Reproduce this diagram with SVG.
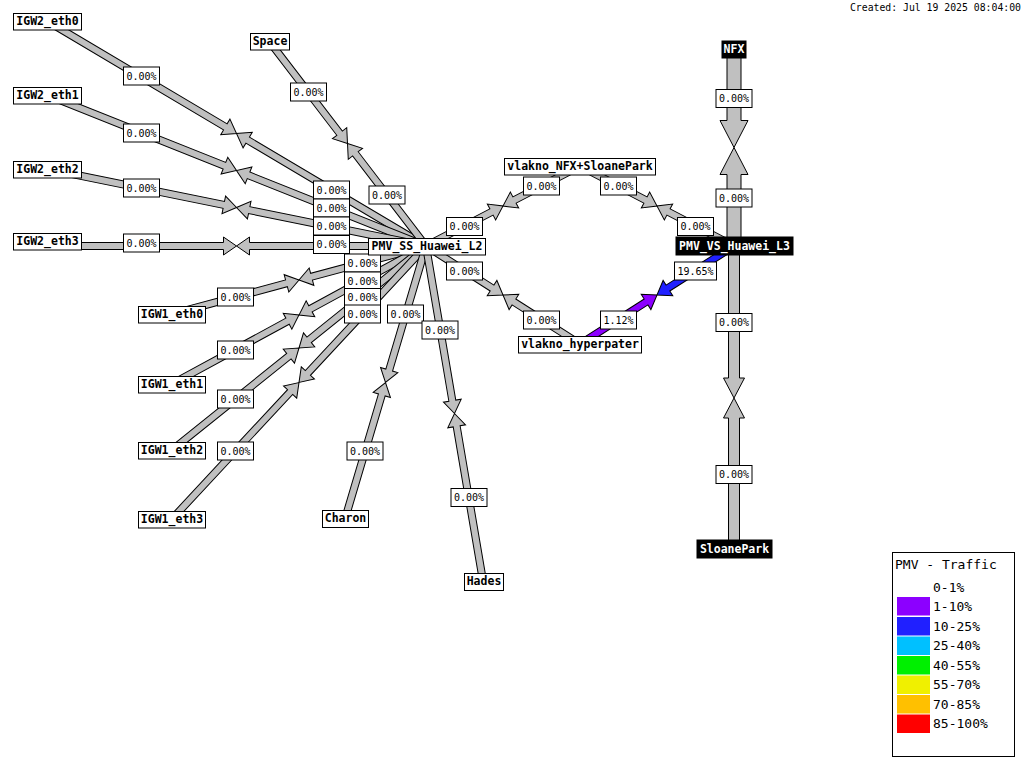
<svg xmlns="http://www.w3.org/2000/svg" width="1024" height="768" viewBox="0 0 1024 768">
<style>
.a{fill:#c0c0c0;stroke:#000;stroke-width:1}
.p{fill:#8c00ff;stroke:#000;stroke-width:1}
.b{fill:#2020ff;stroke:#000;stroke-width:1}
.bw rect{fill:#fff;stroke:#000;stroke-width:1}
.bw text{font-family:"DejaVu Sans Mono","Liberation Mono",monospace;font-size:10px;text-anchor:middle;fill:#000}
.n rect{fill:#fff;stroke:#000;stroke-width:1}
.n text{font-family:"DejaVu Sans Mono","Liberation Mono",monospace;font-size:11.5px;font-weight:bold;text-anchor:middle;fill:#000}
.k rect{fill:#000;stroke:#000}
.k text{fill:#fff}
.lg{font-family:"DejaVu Sans Mono","Liberation Mono",monospace;font-size:13px;fill:#000}
</style>
<rect width="1024" height="768" fill="#fff"/>
<g id="connectors">
<path class="a" transform="translate(47,21) rotate(30.70)" d="M0,-3.5H207.4V-9L220.4,0L207.4,9V3.5H0Z"/>
<path class="a" transform="translate(426,246) rotate(210.70)" d="M0,-3.5H207.4V-9L220.4,0L207.4,9V3.5H0Z"/>
<path class="a" transform="translate(47,95) rotate(21.72)" d="M0,-3.5H191V-9L204,0L191,9V3.5H0Z"/>
<path class="a" transform="translate(426,246) rotate(201.72)" d="M0,-3.5H191V-9L204,0L191,9V3.5H0Z"/>
<path class="a" transform="translate(47,169) rotate(11.48)" d="M0,-3.5H180.4V-9L193.4,0L180.4,9V3.5H0Z"/>
<path class="a" transform="translate(426,246) rotate(191.48)" d="M0,-3.5H180.4V-9L193.4,0L180.4,9V3.5H0Z"/>
<path class="a" transform="translate(47,246) rotate(0)" d="M0,-3.5H176.5V-9L189.5,0L176.5,9V3.5H0Z"/>
<path class="a" transform="translate(426,246) rotate(180)" d="M0,-3.5H176.5V-9L189.5,0L176.5,9V3.5H0Z"/>
<path class="a" transform="translate(269,41) rotate(52.55)" d="M0,-3.5H116.1V-9L129.1,0L116.1,9V3.5H0Z"/>
<path class="a" transform="translate(426,246) rotate(232.55)" d="M0,-3.5H116.1V-9L129.1,0L116.1,9V3.5H0Z"/>
<path class="a" transform="translate(172,314) rotate(-14.99)" d="M0,-3.5H118.5V-9L131.5,0L118.5,9V3.5H0Z"/>
<path class="a" transform="translate(426,246) rotate(165.01)" d="M0,-3.5H118.5V-9L131.5,0L118.5,9V3.5H0Z"/>
<path class="a" transform="translate(172,384) rotate(-28.52)" d="M0,-3.5H131.5V-9L144.5,0L131.5,9V3.5H0Z"/>
<path class="a" transform="translate(426,246) rotate(151.48)" d="M0,-3.5H131.5V-9L144.5,0L131.5,9V3.5H0Z"/>
<path class="a" transform="translate(172,450) rotate(-38.77)" d="M0,-3.5H149.9V-9L162.9,0L149.9,9V3.5H0Z"/>
<path class="a" transform="translate(426,246) rotate(141.23)" d="M0,-3.5H149.9V-9L162.9,0L149.9,9V3.5H0Z"/>
<path class="a" transform="translate(172,519) rotate(-47.06)" d="M0,-3.5H173.4V-9L186.4,0L173.4,9V3.5H0Z"/>
<path class="a" transform="translate(426,246) rotate(132.94)" d="M0,-3.5H173.4V-9L186.4,0L173.4,9V3.5H0Z"/>
<path class="a" transform="translate(345,519) rotate(-73.47)" d="M0,-3.5H129.4V-9L142.4,0L129.4,9V3.5H0Z"/>
<path class="a" transform="translate(426,246) rotate(106.53)" d="M0,-3.5H129.4V-9L142.4,0L129.4,9V3.5H0Z"/>
<path class="a" transform="translate(426,246) rotate(80.34)" d="M0,-3.5H156.9V-9L169.9,0L156.9,9V3.5H0Z"/>
<path class="a" transform="translate(483,581) rotate(260.34)" d="M0,-3.5H156.9V-9L169.9,0L156.9,9V3.5H0Z"/>
<path class="a" transform="translate(426,246) rotate(-27.45)" d="M0,-3.5H73.8V-9L86.8,0L73.8,9V3.5H0Z"/>
<path class="a" transform="translate(580,166) rotate(152.55)" d="M0,-3.5H73.8V-9L86.8,0L73.8,9V3.5H0Z"/>
<path class="a" transform="translate(580,166) rotate(27.45)" d="M0,-3.5H73.8V-9L86.8,0L73.8,9V3.5H0Z"/>
<path class="a" transform="translate(734,246) rotate(207.45)" d="M0,-3.5H73.8V-9L86.8,0L73.8,9V3.5H0Z"/>
<path class="a" transform="translate(426,246) rotate(32.47)" d="M0,-3.5H78.3V-9L91.3,0L78.3,9V3.5H0Z"/>
<path class="a" transform="translate(580,344) rotate(212.47)" d="M0,-3.5H78.3V-9L91.3,0L78.3,9V3.5H0Z"/>
<path class="p" transform="translate(580,344) rotate(-32.47)" d="M0,-3.5H78.3V-9L91.3,0L78.3,9V3.5H0Z"/>
<path class="b" transform="translate(734,246) rotate(147.53)" d="M0,-3.5H78.3V-9L91.3,0L78.3,9V3.5H0Z"/>
<path class="a" transform="translate(734,49) rotate(90)" d="M0,-7H71.5V-14L98.5,0L71.5,14V7H0Z"/>
<path class="a" transform="translate(734,246) rotate(270)" d="M0,-7H71.5V-14L98.5,0L71.5,14V7H0Z"/>
<path class="a" transform="translate(734,246) rotate(90)" d="M0,-5.5H132V-10.5L152,0L132,10.5V5.5H0Z"/>
<path class="a" transform="translate(734,550) rotate(270)" d="M0,-5.5H132V-10.5L152,0L132,10.5V5.5H0Z"/>
</g>
<g id="bwlabels" class="bw">
<rect x="123.5" y="67" width="36" height="18"/><text x="141.5" y="79.5">0.00%</text>
<rect x="313.5" y="181" width="36" height="18"/><text x="331.5" y="193.5">0.00%</text>
<rect x="123.5" y="124" width="36" height="18"/><text x="141.5" y="136.5">0.00%</text>
<rect x="313.5" y="199" width="36" height="18"/><text x="331.5" y="211.5">0.00%</text>
<rect x="123.5" y="179" width="36" height="18"/><text x="141.5" y="191.5">0.00%</text>
<rect x="313.5" y="217" width="36" height="18"/><text x="331.5" y="229.5">0.00%</text>
<rect x="123.5" y="234" width="36" height="18"/><text x="141.5" y="246.5">0.00%</text>
<rect x="313.5" y="235.5" width="36" height="18"/><text x="331.5" y="248">0.00%</text>
<rect x="290.5" y="83" width="36" height="18"/><text x="308.5" y="95.5">0.00%</text>
<rect x="369" y="186" width="36" height="18"/><text x="387" y="198.5">0.00%</text>
<rect x="217.5" y="288" width="36" height="18"/><text x="235.5" y="300.5">0.00%</text>
<rect x="344.5" y="254" width="36" height="18"/><text x="362.5" y="266.5">0.00%</text>
<rect x="217.5" y="341" width="36" height="18"/><text x="235.5" y="353.5">0.00%</text>
<rect x="344.5" y="272" width="36" height="18"/><text x="362.5" y="284.5">0.00%</text>
<rect x="217.5" y="390" width="36" height="18"/><text x="235.5" y="402.5">0.00%</text>
<rect x="344.5" y="288.5" width="36" height="18"/><text x="362.5" y="301">0.00%</text>
<rect x="217.5" y="442" width="36" height="18"/><text x="235.5" y="454.5">0.00%</text>
<rect x="344.5" y="305" width="36" height="18"/><text x="362.5" y="317.5">0.00%</text>
<rect x="347" y="442" width="36" height="18"/><text x="365" y="454.5">0.00%</text>
<rect x="387.5" y="305" width="36" height="18"/><text x="405.5" y="317.5">0.00%</text>
<rect x="422" y="321" width="36" height="18"/><text x="440" y="333.5">0.00%</text>
<rect x="451" y="488.5" width="36" height="18"/><text x="469" y="501">0.00%</text>
<rect x="446.5" y="217.5" width="36" height="18"/><text x="464.5" y="230">0.00%</text>
<rect x="523.5" y="177" width="36" height="18"/><text x="541.5" y="189.5">0.00%</text>
<rect x="600.5" y="177" width="36" height="18"/><text x="618.5" y="189.5">0.00%</text>
<rect x="677.5" y="217.5" width="36" height="18"/><text x="695.5" y="230">0.00%</text>
<rect x="446.5" y="262" width="36" height="18"/><text x="464.5" y="274.5">0.00%</text>
<rect x="523.5" y="311" width="36" height="18"/><text x="541.5" y="323.5">0.00%</text>
<rect x="600.5" y="311" width="36" height="18"/><text x="618.5" y="323.5">1.12%</text>
<rect x="674.5" y="262" width="42" height="18"/><text x="695.5" y="274.5">19.65%</text>
<rect x="716" y="89.5" width="36" height="18"/><text x="734" y="102">0.00%</text>
<rect x="716" y="189" width="36" height="18"/><text x="734" y="201.5">0.00%</text>
<rect x="716" y="313.5" width="36" height="18"/><text x="734" y="326">0.00%</text>
<rect x="716" y="465.5" width="36" height="18"/><text x="734" y="478">0.00%</text>
</g>
<g id="IGW2_eth0" class="n"><rect x="13.5" y="13.5" width="68" height="16.5"/><text x="47.5" y="24.5">IGW2_eth0</text></g>
<g id="IGW2_eth1" class="n"><rect x="13.5" y="87.5" width="68" height="16.5"/><text x="47.5" y="98.5">IGW2_eth1</text></g>
<g id="IGW2_eth2" class="n"><rect x="13.5" y="161.5" width="68" height="16.5"/><text x="47.5" y="172.5">IGW2_eth2</text></g>
<g id="IGW2_eth3" class="n"><rect x="13.5" y="233.5" width="68" height="16.5"/><text x="47.5" y="244.5">IGW2_eth3</text></g>
<g id="Space" class="n"><rect x="250.5" y="33.5" width="39" height="16.5"/><text x="270" y="44.5">Space</text></g>
<g id="PMV_SS_Huawei_L2" class="n"><rect x="368.5" y="238.5" width="117" height="16.5"/><text x="427" y="249.5">PMV_SS_Huawei_L2</text></g>
<g id="vlakno_NFX_SloanePark" class="n"><rect x="504.5" y="158.5" width="151" height="16.5"/><text x="580" y="169.5">vlakno_NFX+SloanePark</text></g>
<g id="vlakno_hyperpater" class="n"><rect x="518.5" y="336.5" width="123" height="16.5"/><text x="580" y="347.5">vlakno_hyperpater</text></g>
<g id="NFX" class="n k"><rect x="722" y="41" width="24" height="17"/><text x="734" y="52.5">NFX</text></g>
<g id="PMV_VS_Huawei_L3" class="n k"><rect x="676" y="237" width="117" height="18"/><text x="734.5" y="249.5">PMV_VS_Huawei_L3</text></g>
<g id="SloanePark" class="n k"><rect x="697" y="540" width="75" height="18"/><text x="734.5" y="552.5">SloanePark</text></g>
<g id="IGW1_eth0" class="n"><rect x="138.5" y="306.5" width="67" height="16.5"/><text x="172" y="317.5">IGW1_eth0</text></g>
<g id="IGW1_eth1" class="n"><rect x="138.5" y="376.5" width="67" height="16.5"/><text x="172" y="387.5">IGW1_eth1</text></g>
<g id="IGW1_eth2" class="n"><rect x="138.5" y="442.5" width="67" height="16.5"/><text x="172" y="453.5">IGW1_eth2</text></g>
<g id="IGW1_eth3" class="n"><rect x="138.5" y="511.5" width="67" height="16.5"/><text x="172" y="522.5">IGW1_eth3</text></g>
<g id="Charon" class="n"><rect x="322.5" y="510.5" width="46" height="17"/><text x="345.5" y="522">Charon</text></g>
<g id="Hades" class="n"><rect x="464.5" y="573.5" width="39" height="17"/><text x="484" y="585">Hades</text></g>
<g id="legend">
<rect x="892.5" y="552.5" width="122" height="204" fill="#fff" stroke="#000" stroke-width="1"/>
<text class="lg" x="895" y="569">PMV - Traffic</text>
<rect x="897" y="597" width="33" height="18.5" fill="#8c00ff"/>
<rect x="897" y="617" width="33" height="18.5" fill="#2020ff"/>
<rect x="897" y="636.5" width="33" height="18.5" fill="#00c0ff"/>
<rect x="897" y="656" width="33" height="18.5" fill="#00f000"/>
<rect x="897" y="675.5" width="33" height="18.5" fill="#f0f000"/>
<rect x="897" y="695" width="33" height="18.5" fill="#ffc000"/>
<rect x="897" y="714.5" width="33" height="18.5" fill="#ff0000"/>
<text class="lg" x="933" y="592">0-1%</text>
<text class="lg" x="933" y="611">1-10%</text>
<text class="lg" x="933" y="631">10-25%</text>
<text class="lg" x="933" y="650">25-40%</text>
<text class="lg" x="933" y="670">40-55%</text>
<text class="lg" x="933" y="689">55-70%</text>
<text class="lg" x="933" y="709">70-85%</text>
<text class="lg" x="933" y="728">85-100%</text>
</g>
<text x="1021" y="10.5" text-anchor="end" font-family="DejaVu Sans Mono, Liberation Mono, monospace" font-size="9.8">Created: Jul 19 2025 08:04:00</text>
</svg>
